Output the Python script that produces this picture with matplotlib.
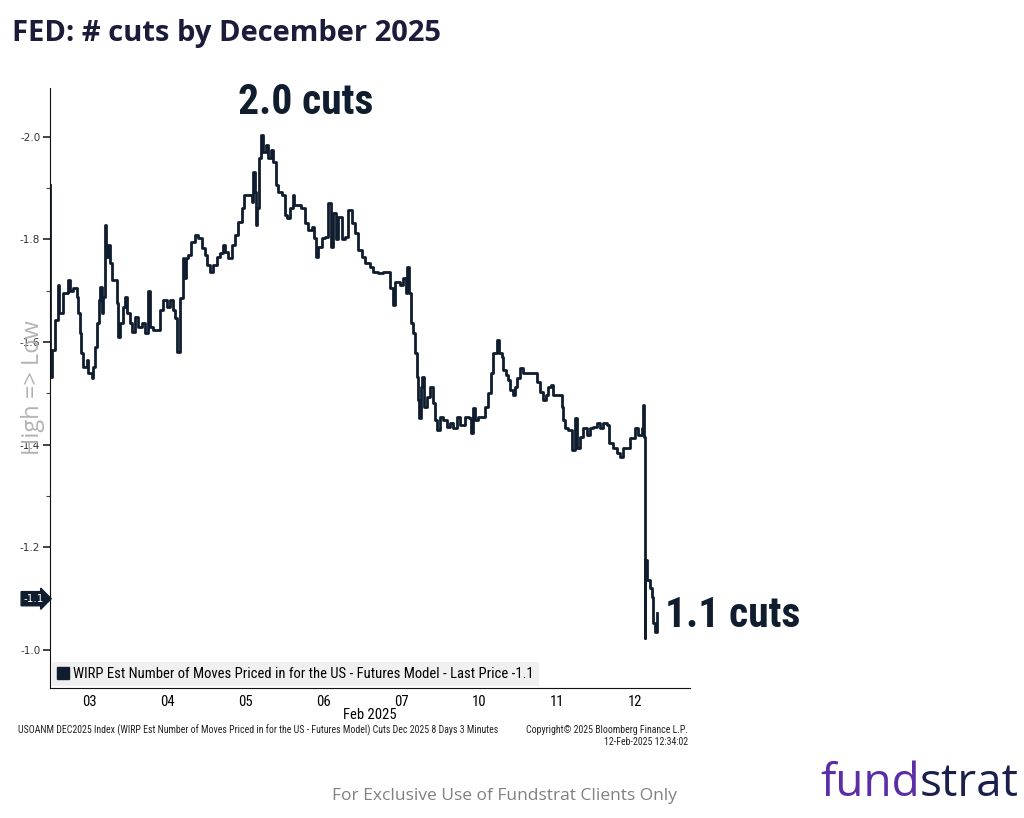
import matplotlib.pyplot as plt
from matplotlib.lines import Line2D
import matplotlib.transforms as mtransforms
import numpy as np

# --- data: trading-day position (0 = Feb 03 open) and # cuts priced ---
day_pos = [0.000, 0.005, 0.026, 0.064, 0.103, 0.115, 0.167, 0.231, 0.256, 0.295,
           0.346, 0.359, 0.385, 0.397, 0.423, 0.474, 0.487, 0.538, 0.551, 0.577,
           0.603, 0.628, 0.641, 0.667, 0.679, 0.705, 0.718, 0.744, 0.769, 0.795,
           0.833, 0.859, 0.872, 0.897, 0.936, 0.962, 0.987, 1.026, 1.051, 1.090,
           1.128, 1.179, 1.218, 1.256, 1.282, 1.321, 1.372, 1.410, 1.449, 1.500,
           1.538, 1.577, 1.603, 1.628, 1.667, 1.705, 1.718, 1.744, 1.769, 1.808,
           1.859, 1.897, 1.949, 1.987, 2.013, 2.051, 2.090, 2.141, 2.179, 2.218,
           2.244, 2.282, 2.333, 2.372, 2.410, 2.462, 2.487, 2.526, 2.564, 2.590,
           2.603, 2.628, 2.641, 2.654, 2.679, 2.705, 2.731, 2.769, 2.795, 2.833,
           2.859, 2.897, 2.923, 2.974, 3.013, 3.038, 3.077, 3.115, 3.128, 3.167,
           3.218, 3.269, 3.308, 3.359, 3.385, 3.410, 3.436, 3.487, 3.526, 3.564,
           3.603, 3.628, 3.667, 3.692, 3.744, 3.782, 3.821, 3.872, 3.910, 3.949,
           4.000, 4.038, 4.103, 4.141, 4.205, 4.269, 4.333, 4.359, 4.397, 4.423,
           4.487, 4.526, 4.564, 4.577, 4.603, 4.628, 4.654, 4.679, 4.705, 4.718,
           4.731, 4.756, 4.769, 4.795, 4.833, 4.872, 4.910, 4.936, 4.962, 5.000,
           5.038, 5.090, 5.128, 5.167, 5.218, 5.256, 5.321, 5.372, 5.397, 5.423,
           5.449, 5.487, 5.551, 5.577, 5.615, 5.654, 5.679, 5.731, 5.756, 5.795,
           5.808, 5.846, 5.872, 5.897, 5.936, 5.962, 5.987, 6.026, 6.064, 6.128,
           6.192, 6.244, 6.282, 6.321, 6.359, 6.385, 6.423, 6.449, 6.538, 6.564,
           6.577, 6.603, 6.641, 6.692, 6.731, 6.756, 6.795, 6.833, 6.885, 6.923,
           6.962, 7.013, 7.051, 7.090, 7.141, 7.167, 7.218, 7.269, 7.308, 7.346,
           7.397, 7.436, 7.500, 7.538, 7.590, 7.603, 7.615, 7.622, 7.628, 7.654,
           7.692, 7.718, 7.731, 7.756, 7.782]
cuts = [1.906, 1.532, 1.585, 1.643, 1.712, 1.657, 1.696, 1.721, 1.700, 1.706,
        1.688, 1.657, 1.618, 1.579, 1.552, 1.565, 1.540, 1.530, 1.552, 1.591,
        1.637, 1.682, 1.708, 1.657, 1.688, 1.828, 1.766, 1.790, 1.754, 1.721,
        1.721, 1.676, 1.610, 1.637, 1.669, 1.688, 1.657, 1.637, 1.620, 1.649,
        1.630, 1.637, 1.618, 1.700, 1.630, 1.624, 1.624, 1.663, 1.682, 1.669,
        1.682, 1.663, 1.647, 1.580, 1.686, 1.764, 1.725, 1.764, 1.770, 1.795,
        1.809, 1.803, 1.784, 1.770, 1.750, 1.737, 1.750, 1.766, 1.774, 1.789,
        1.776, 1.764, 1.789, 1.809, 1.834, 1.862, 1.887, 1.887, 1.887, 1.873,
        1.932, 1.893, 1.828, 1.862, 1.959, 2.004, 1.971, 1.984, 1.959, 1.975,
        1.951, 1.906, 1.893, 1.887, 1.848, 1.842, 1.862, 1.887, 1.867, 1.867,
        1.862, 1.832, 1.819, 1.825, 1.803, 1.766, 1.786, 1.803, 1.805, 1.871,
        1.786, 1.852, 1.800, 1.844, 1.800, 1.805, 1.858, 1.832, 1.813, 1.780,
        1.766, 1.754, 1.747, 1.737, 1.735, 1.737, 1.737, 1.706, 1.672, 1.717,
        1.711, 1.725, 1.696, 1.747, 1.696, 1.637, 1.618, 1.579, 1.532, 1.487,
        1.452, 1.513, 1.532, 1.474, 1.493, 1.513, 1.481, 1.448, 1.429, 1.454,
        1.448, 1.435, 1.442, 1.433, 1.454, 1.439, 1.454, 1.452, 1.423, 1.472,
        1.448, 1.454, 1.454, 1.474, 1.501, 1.540, 1.579, 1.604, 1.579, 1.571,
        1.546, 1.536, 1.526, 1.507, 1.497, 1.513, 1.530, 1.550, 1.540, 1.540,
        1.540, 1.522, 1.503, 1.487, 1.497, 1.513, 1.517, 1.497, 1.497, 1.474,
        1.448, 1.433, 1.429, 1.390, 1.452, 1.394, 1.415, 1.433, 1.419, 1.433,
        1.435, 1.442, 1.433, 1.442, 1.439, 1.404, 1.394, 1.384, 1.376, 1.394,
        1.394, 1.413, 1.433, 1.419, 1.433, 1.478, 1.415, 1.023, 1.175, 1.136,
        1.121, 1.103, 1.053, 1.035, 1.072]

day_labels = ['03', '04', '05', '06', '07', '10', '11', '12']
last_price = -1.1

navy = '#0f1d2e'
narrow = ['Liberation Sans Narrow', 'Roboto Condensed', 'DejaVu Sans']
cond = dict(family=narrow, stretch='condensed')

fig = plt.figure(figsize=(10.24, 8.18), dpi=100)
ax = fig.add_axes([50 / 1024, 1 - 688 / 818, 640 / 1024, 600 / 818])

values = -np.array(cuts)
ax.plot(day_pos, values, color=navy, linewidth=2.0, drawstyle='steps-post')

# inverted y axis, Bloomberg style
ax.set_ylim(-0.926, -2.095)
ax.set_xlim(0, 8.205)
ax.set_yticks(np.arange(-2.0, -0.99, 0.2))
ax.set_yticklabels([f'{v:.1f}' for v in np.arange(-2.0, -0.99, 0.2)])
ax.set_yticks(np.arange(-1.9, -1.0, 0.2), minor=True)
ax.tick_params(axis='y', which='major', length=5, width=1.2, colors='#222222',
               labelsize=7.5, pad=2)
ax.tick_params(axis='y', which='minor', length=3, width=0.8, color='#444444')
for lbl in ax.get_yticklabels():
    lbl.set_family('DejaVu Sans')
    lbl.set_color('#333333')

ax.set_xticks(np.arange(len(day_labels)) + 0.5)
ax.set_xticklabels(day_labels, fontsize=10.5, **cond)
ax.tick_params(axis='x', length=0, pad=5)
ax.set_xlabel('Feb 2025', fontsize=10.5, labelpad=-1, **cond)

for side in ['top', 'right']:
    ax.spines[side].set_visible(False)
ax.spines['left'].set_color('#111111')
ax.spines['bottom'].set_color('#111111')

# legend
handle = Line2D([], [], marker='s', linestyle='none', color=navy, markersize=8)
leg = ax.legend([handle], ['WIRP Est Number of Moves Priced in for the US - Futures Model - Last Price -1.1'],
                loc='lower left', bbox_to_anchor=(0.0, 0.0), borderaxespad=0.15,
                prop={'family': narrow, 'stretch': 'condensed', 'size': 10.5},
                handletextpad=0.3, handlelength=0.8, fancybox=False, framealpha=1,
                borderpad=0.35)
leg.get_frame().set_facecolor('#f0f0f0')
leg.get_frame().set_edgecolor('none')

# last price tag on the axis
trans = mtransforms.blended_transform_factory(ax.transAxes, ax.transData)
ax.text(-0.01, last_price, f'{last_price:.1f}', transform=trans, ha='right', va='center',
        color='white', fontsize=7.5, family='DejaVu Sans',
        bbox=dict(boxstyle='rarrow,pad=0.2', fc=navy, ec=navy))

# High => Low
ax.text(-0.027, 0.5, 'High => Low', transform=ax.transAxes, rotation=90,
        ha='center', va='center', fontsize=17, color='#b3b3b3', family='Open Sans')

# call-outs
peak = cuts.index(max(cuts))
ax.annotate('2.0 cuts', xy=(day_pos[peak], -cuts[peak]),
            xytext=(0.4, 0.975), textcoords='axes fraction', ha='center', va='center',
            fontsize=30, fontweight='bold', color=navy, **cond)
ax.text(7.88, values[-1] + 0.005, '1.1 cuts', ha='left', va='center',
        fontsize=30, fontweight='bold', color=navy, **cond)

# title and footers
fig.text(12 / 1024, 1 - 34 / 818, 'FED: # cuts by December 2025', ha='left', va='center',
         fontsize=21, fontweight='bold', family='Open Sans', color='#1b1b3a')
fig.text(18 / 1024, 1 - 730 / 818,
         'USOANM DEC2025 Index (WIRP Est Number of Moves Priced in for the US - Futures Model) '
         'Cuts Dec 2025 8 Days 3 Minutes',
         ha='left', va='center', fontsize=7.1, color='#222222', **cond)
fig.text(688 / 1024, 1 - 730 / 818, 'Copyright\u00a9 2025 Bloomberg Finance L.P.',
         ha='right', va='center', fontsize=7.1, color='#222222', **cond)
fig.text(688 / 1024, 1 - 742 / 818, '12-Feb-2025 12:34:02',
         ha='right', va='center', fontsize=7.1, color='#222222', **cond)
fig.text(505 / 1024, 1 - 796 / 818, 'For Exclusive Use of Fundstrat Clients Only',
         ha='center', va='center', fontsize=12.5, family='Open Sans', color='#808080')
fig.text(920 / 1024, 1 - 784 / 818, 'fund', ha='right', va='center',
         fontsize=33, family='Open Sans', color='#5b2da6')
fig.text(920 / 1024, 1 - 784 / 818, 'strat', ha='left', va='center',
         fontsize=33, family='Open Sans', color='#1b1f4b')

fig.savefig('out.png', dpi=100)
